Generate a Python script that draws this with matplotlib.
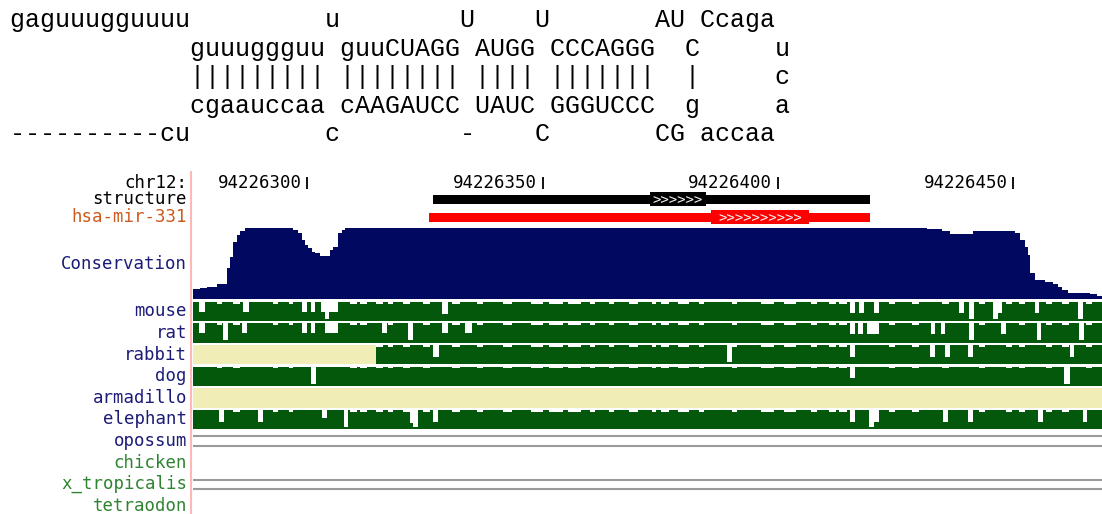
import matplotlib.pyplot as plt
from matplotlib.lines import Line2D

# ---- data -------------------------------------------------------------
structure_lines = [
    "gaguuugguuuu         u        U    U       AU Ccaga",
    "            guuuggguu guuCUAGG AUGG CCCAGGG  C     u",
    "            ||||||||| |||||||| |||| |||||||  |     c",
    "            cgaauccaa cAAGAUCC UAUC GGGUCCC  g     a",
    "----------cu         c        -    C       CG accaa",
]

chrom = "chr12:"
view_start = 94226275.7          # genomic coordinate of left edge
view_len = 193.2                 # bases shown
ruler_ticks = [94226300, 94226350, 94226400, 94226450]

# gene-like features: (start, end) in bases from the left edge
structure_span = (51.05, 143.85)
structure_thick = (97.1, 109.0)
mir_span = (50.2, 143.85)
mir_thick = (110.2, 131.0)

# conservation profile (step edges in bases from left edge, values 0..1)
cons_edges = [0, 1.5, 3.0, 5.1, 7.2, 7.9, 8.5, 9.4, 10.0, 11.1, 21.3, 22.3,
              23.2, 23.8, 24.4, 25.3, 25.9, 27.0, 29.1, 29.8, 30.8, 31.7,
              32.3, 156.0, 159.2, 160.9, 165.8, 174.7, 175.7, 176.8, 177.4,
              177.9, 178.9, 181.1, 182.8, 183.8, 184.7, 185.9, 190.6, 192.1,
              193.2]
cons_vals = [0.13, 0.15, 0.17, 0.21, 0.43, 0.59, 0.80, 0.90, 0.96, 1.0, 0.97,
             0.93, 0.83, 0.76, 0.71, 0.66, 0.64, 0.60, 0.69, 0.73, 0.93, 0.97,
             1.0, 0.985, 0.96, 0.91, 0.96, 0.93, 0.83, 0.73, 0.61, 0.36, 0.26,
             0.23, 0.21, 0.17, 0.12, 0.08, 0.067, 0.04]

species = ["mouse", "rat", "rabbit", "dog", "armadillo", "elephant",
           "opossum", "chicken", "x_tropicalis", "tetraodon"]

# slight dips shared by every aligned species: (start, end)
shared_small_dips = [(5.0, 6.1), (8.6, 10.0), (17.1, 18.1), (20.3, 21.2),
                     (33.4, 34.8), (35.5, 36.9), (39.0, 40.4), (41.5, 42.6),
                     (44.7, 46.1), (48.9, 50.4), (55.0, 56.7), (60.3, 61.7),
                     (65.8, 67.9), (71.8, 74.3), (75.7, 78.6), (79.6, 82.4),
                     (84.4, 85.4), (88.5, 89.5), (92.7, 94.5), (97.5, 98.5),
                     (99.4, 101.2), (103.0, 105.5), (107.6, 108.7),
                     (114.6, 115.6), (120.7, 123.5), (125.6, 128.1),
                     (131.3, 132.7), (135.1, 136.6), (137.3, 139.0),
                     (147.9, 149.3), (152.9, 154.3), (159.2, 160.6),
                     (167.0, 168.4), (172.7, 174.1), (175.5, 176.9),
                     (181.2, 182.6), (184.7, 186.1), (189.7, 191.1)]
small_dip_value = 0.9

# deeper dips in each species row: (start, end, value)
mouse_dips = [(1.3, 2.5, 0.45), (10.7, 11.8, 0.45), (23.1, 24.2, 0.45),
              (25.0, 26.0, 0.45), (27.3, 28.0, 0.45), (28.0, 29.0, 0.12),
              (29.0, 30.9, 0.45), (53.0, 54.2, 0.37), (139.6, 140.6, 0.42),
              (141.5, 142.6, 0.42), (144.8, 145.8, 0.42), (162.8, 163.8, 0.42),
              (164.9, 166.0, 0.13), (170.0, 171.0, 0.13), (171.0, 172.0, 0.42),
              (178.9, 179.9, 0.42), (188.1, 189.1, 0.13)]
rat_dips = [(1.3, 2.5, 0.49), (6.4, 7.4, 0.14), (10.4, 11.4, 0.49),
            (23.1, 24.2, 0.49), (25.0, 26.0, 0.49), (28.0, 30.9, 0.49),
            (40.1, 41.2, 0.49), (45.8, 46.8, 0.14), (53.0, 54.2, 0.49),
            (57.8, 59.2, 0.49), (139.6, 140.6, 0.44), (141.4, 142.4, 0.44),
            (143.3, 145.8, 0.44), (156.8, 157.8, 0.44), (158.9, 159.9, 0.44),
            (164.9, 166.0, 0.14), (171.8, 172.8, 0.44), (179.3, 180.3, 0.14),
            (188.4, 189.4, 0.14)]
rabbit_dips = [(0, 39.0, 0.0), (51.1, 52.3, 0.4), (113.5, 114.5, 0.14),
               (139.6, 140.6, 0.4), (156.6, 157.6, 0.4), (159.9, 161.0, 0.4),
               (164.7, 165.7, 0.4), (186.3, 187.3, 0.4)]
dog_dips = [(25.0, 26.1, 0.09), (139.6, 140.6, 0.43), (185.1, 186.3, 0.09)]
armadillo_dips = [(0, 193.2, 0.0)]
elephant_dips = [(5.5, 6.5, 0.37), (13.8, 14.8, 0.37), (27.5, 28.5, 0.59),
                 (32.0, 33.0, 0.13), (46.1, 46.8, 0.30), (46.8, 47.9, 0.13),
                 (51.0, 52.1, 0.37), (139.6, 140.6, 0.37), (143.6, 144.7, 0.13),
                 (144.7, 145.8, 0.37), (159.4, 160.4, 0.37), (164.7, 165.7, 0.37),
                 (179.6, 180.6, 0.37), (189.1, 190.1, 0.37)]
species_dips = [mouse_dips, rat_dips, rabbit_dips, dog_dips, armadillo_dips,
                elephant_dips]
missing_spans = {"rabbit": [(0, 39.0)], "armadillo": [(0, 193.2)]}
double_line_species = ["opossum", "x_tropicalis"]

# ---- style ------------------------------------------------------------
W, H = 1102, 514
navy = "#00085f"
green = "#04580c"
beige = "#f0eeb6"
label_navy = "#1c1c78"
label_green = "#2e8430"
track_left, track_right = 193, 1102
label_size = 12.5

fig = plt.figure(figsize=(W / 100, H / 100), dpi=100)


def px_axes(x0, y0, x1, y1):
    ax = fig.add_axes([x0 / W, 1 - y1 / H, (x1 - x0) / W, (y1 - y0) / H])
    ax.set_xlim(view_start, view_start + view_len)
    ax.set_ylim(0, 1)
    ax.set_axis_off()
    return ax


def to_steps(dips, total):
    deep = sorted(dips)
    small = [(s, e, small_dip_value) for s, e in shared_small_dips
             if not any(s < de and e > ds for ds, de, _ in deep)]
    edges, vals = [0.0], []
    for s, e, v in sorted(deep + small):
        s = max(s, edges[-1])
        if e <= s:
            continue
        if s > edges[-1]:
            vals.append(1.0)
            edges.append(s)
        vals.append(v)
        edges.append(e)
    if edges[-1] < total:
        vals.append(1.0)
        edges.append(total)
    return [view_start + e for e in edges], vals


def label(y, text, color):
    fig.text(187 / W, 1 - y / H, text, ha="right", va="center", color=color,
             family="DejaVu Sans Mono", fontsize=label_size)


# RNA secondary structure text
for i, line in enumerate(structure_lines):
    fig.text(10 / W, 1 - (27 + 28.6 * i) / H, line, ha="left", va="baseline",
             family="Liberation Mono", fontsize=18, color="black")

# pink separator
fig.add_artist(Line2D([191 / W, 191 / W], [1 - 172 / H, 0], color="#ffb8b8",
                      lw=1.5))

# ruler
ax = px_axes(track_left, 176, track_right, 190)
ax.vlines(ruler_ticks, 0.05, 0.95, color="black", lw=1.3)
for t in ruler_ticks:
    ax.annotate(str(t), (t, 0.5), xytext=(-4, 0), textcoords="offset points",
                ha="right", va="center", family="DejaVu Sans Mono",
                fontsize=label_size, color="black")
label(183, chrom, "black")

# structure and miRNA features
for (span, thick, color, y0, y1, lab, lcol, n) in [
        (structure_span, structure_thick, "black", 190, 208, "structure",
         "black", 6),
        (mir_span, mir_thick, "#ff0000", 208, 226, "hsa-mir-331", "#cc5a1e",
         10)]:
    ax = px_axes(track_left, y0, track_right, y1)
    ax.barh(0.5, span[1] - span[0], left=view_start + span[0], height=0.5,
            color=color)
    ax.barh(0.5, thick[1] - thick[0], left=view_start + thick[0], height=0.83,
            color=color)
    ax.text(view_start + (thick[0] + thick[1]) / 2, 0.47, ">" * n,
            ha="center", va="center", color="#f2f2f2",
            family="DejaVu Sans Mono", fontsize=10)
    label((y0 + y1) / 2 + 0.5, lab, lcol)

# conservation
ax = px_axes(track_left, 228, track_right, 298.5)
ax.stairs(cons_vals, [view_start + e for e in cons_edges], fill=True,
          color=navy)
label(264, "Conservation", label_navy)

# species rows
pitch, row_h, first_top = 21.6, 19.5, 301.7
for k, name in enumerate(species):
    top = first_top + pitch * k
    ax = px_axes(track_left, top, track_right, top + row_h)
    if k < len(species_dips):
        for s, e in missing_spans.get(name, []):
            ax.axvspan(view_start + s, view_start + e, color=beige, lw=0)
        edges, vals = to_steps(species_dips[k], view_len)
        ax.stairs(vals, edges, fill=True, color=green)
        col = label_navy
    elif name in double_line_species:
        ax.axhline(0.74, color="#9a9a9a", lw=1.5)
        ax.axhline(0.26, color="#9a9a9a", lw=1.5)
        col = label_navy if name == "opossum" else label_green
    else:
        col = label_green
    label(top + row_h / 2, name, col)

fig.savefig("out.png", dpi=100)
